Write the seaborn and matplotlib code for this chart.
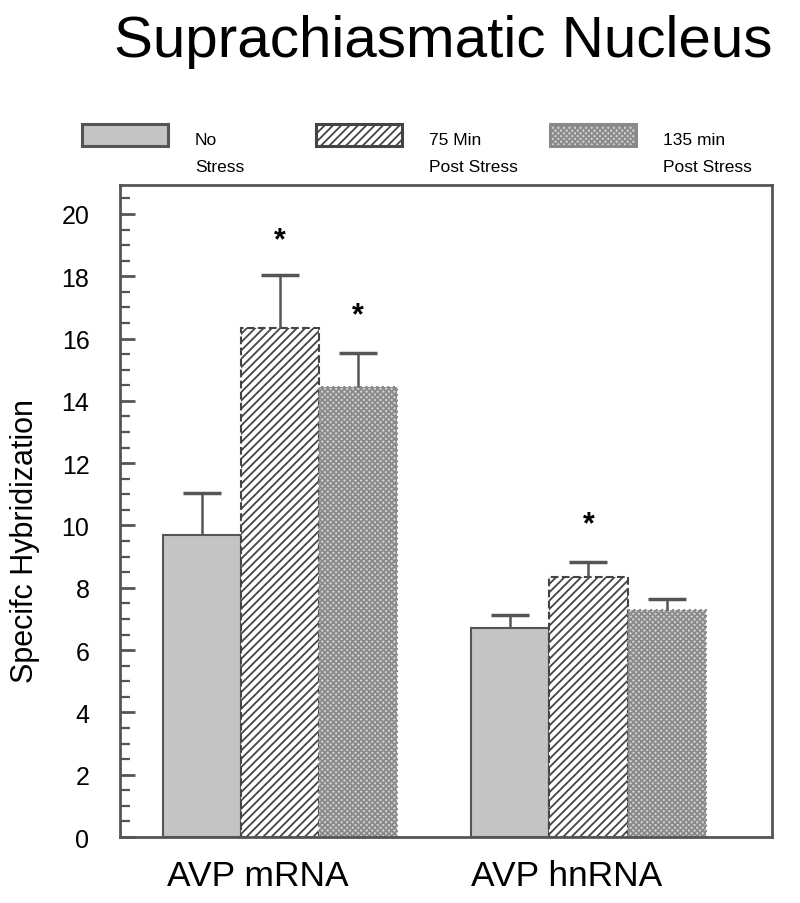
import numpy as np
import pandas as pd
import matplotlib
matplotlib.use("Agg")
import matplotlib.pyplot as plt
import matplotlib.patches as mpatches
import matplotlib.transforms as mtransforms
import seaborn as sns
from matplotlib.ticker import MultipleLocator

# values
groups = ["AVP mRNA", "AVP hnRNA"]
conditions = ["No\nStress", "75 Min\nPost Stress", "135 min\nPost Stress"]
means = {
    "No\nStress": [9.7, 6.7],
    "75 Min\nPost Stress": [16.35, 8.35],
    "135 min\nPost Stress": [14.45, 7.3],
}
errors = {
    "No\nStress": [1.35, 0.42],
    "75 Min\nPost Stress": [1.7, 0.48],
    "135 min\nPost Stress": [1.1, 0.33],
}
# significance stars (condition, group index, y position)
stars = [("75 Min\nPost Stress", 0, 19.15), ("135 min\nPost Stress", 0, 16.75),
         ("75 Min\nPost Stress", 1, 10.05)]

rows = []
for c in conditions:
    for g, m in zip(groups, means[c]):
        rows.append({"group": g, "condition": c, "value": m})
df = pd.DataFrame(rows)

sns.set_style("white")
plt.rcParams['font.family'] = ['Liberation Sans', 'DejaVu Sans']
plt.rcParams['text.color'] = 'black'
plt.rcParams['axes.labelcolor'] = 'black'
plt.rcParams['xtick.color'] = 'black'
plt.rcParams['ytick.color'] = 'black'
plt.rcParams['hatch.linewidth'] = 1.3

fig = plt.figure(figsize=(8, 9.04), dpi=100)
ax = fig.add_axes([120 / 800, 1 - 838 / 904, 652 / 800, 652 / 904])

face = {"No\nStress": "#c4c4c4", "75 Min\nPost Stress": "white", "135 min\nPost Stress": "#d2d2d2"}
hatch = {"No\nStress": "", "75 Min\nPost Stress": "////", "135 min\nPost Stress": "xxxxxx"}
edge = {"No\nStress": "#555555", "75 Min\nPost Stress": "#444444", "135 min\nPost Stress": "#8a8a8a"}
lstyle = {"No\nStress": "-", "75 Min\nPost Stress": "--", "135 min\nPost Stress": ":"}

sns.barplot(data=df, x="group", y="value", hue="condition", hue_order=conditions,
            order=groups, width=0.76, palette=face, ax=ax, legend=False,
            edgecolor="#555555", linewidth=1.5, errorbar=None)

for cont, c in zip(ax.containers, conditions):
    for bar in cont:
        bar.set_hatch(hatch[c])
        bar.set_edgecolor(edge[c])
        bar.set_linestyle(lstyle[c])
    xs = [b.get_x() + b.get_width() / 2 for b in cont]
    _, caps, _ = ax.errorbar(xs, means[c], yerr=[np.zeros(len(xs)), errors[c]],
                             fmt="none", ecolor="#555555", elinewidth=1.8,
                             capsize=13.5, capthick=2.5)
    caps[0].remove()  # keep only the upper cap

for c, gi, y in stars:
    bar = ax.containers[conditions.index(c)][gi]
    ax.text(bar.get_x() + bar.get_width() / 2, y, "*", ha="center", va="center",
            fontsize=22, fontweight="bold")

ax.set_xlim(-0.519, 1.595)
ax.set_ylim(0, 20.93)
ax.yaxis.set_major_locator(MultipleLocator(2))
ax.yaxis.set_minor_locator(MultipleLocator(0.5))
ax.tick_params(axis="y", which="major", direction="in", length=11, width=2,
               color="#555555", labelsize=18, left=True, pad=22)
ax.tick_params(axis="y", which="minor", direction="in", length=7, width=1.6,
               color="#555555", left=True)
ax.tick_params(axis="x", length=0, labelsize=25.5, pad=16)
# group labels sit a little left of the bar groups in the original
shift = mtransforms.ScaledTranslation(-0.22, 0, fig.dpi_scale_trans)
for lab in ax.get_xticklabels():
    lab.set_transform(lab.get_transform() + shift)
ax.set_xlabel("")
ax.set_ylabel("Specifc Hybridization", fontsize=22)
ax.yaxis.set_label_coords((40 - 120) / 652, 1 - (541 - 186) / 652)
for s in ax.spines.values():
    s.set_visible(True)
    s.set_color("#555555")
    s.set_linewidth(2)

# legend row above the plot
box_x = [82, 316, 550]
for c, bx in zip(conditions, box_x):
    fig.patches.append(mpatches.Rectangle(
        (bx / 800, 1 - 147 / 904), 86 / 800, 22 / 904, transform=fig.transFigure,
        facecolor=face[c], hatch=hatch[c], edgecolor=edge[c], linewidth=2.2))
    line1, line2 = c.split("\n")
    fig.text((bx + 113) / 800, 1 - 145 / 904, line1, fontsize=12.5, va="baseline")
    fig.text((bx + 113) / 800, 1 - 172 / 904, line2, fontsize=12.5, va="baseline")

fig.text(0.554, 1 - 57 / 904, "Suprachiasmatic Nucleus", ha="center", va="baseline",
         fontsize=42)

fig.savefig("out.png", dpi=100)
